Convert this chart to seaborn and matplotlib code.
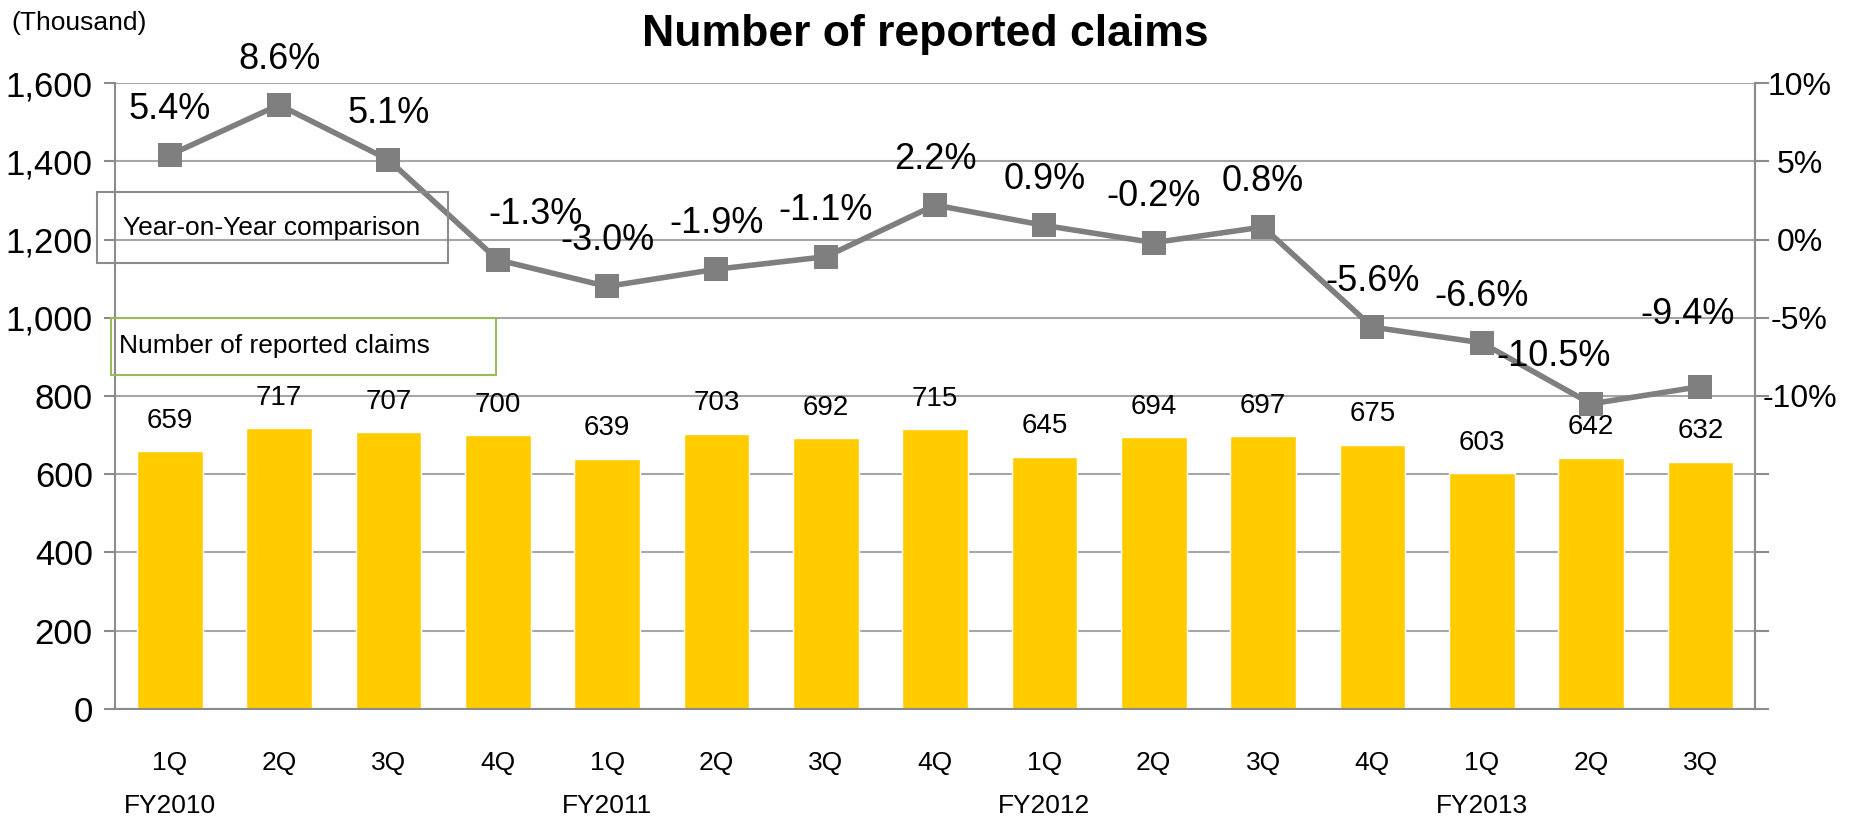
# Number of reported claims (bars) with Year-on-Year change (line, right axis)
import numpy as np
import pandas as pd
import seaborn as sns
import matplotlib.pyplot as plt
from matplotlib.patches import Rectangle

quarters = ['1Q', '2Q', '3Q', '4Q', '1Q', '2Q', '3Q', '4Q',
            '1Q', '2Q', '3Q', '4Q', '1Q', '2Q', '3Q']
fiscal_years = ['FY2010', 'FY2011', 'FY2012', 'FY2013']
claims = [659, 717, 707, 700, 639, 703, 692, 715, 645, 694, 697, 675, 603, 642, 632]
yoy = [5.4, 8.6, 5.1, -1.3, -3.0, -1.9, -1.1, 2.2, 0.9, -0.2, 0.8, -5.6, -6.6, -10.5, -9.4]

# which fiscal year each quarter belongs to
fy_of_quarter = [fy for fy in fiscal_years for _ in range(4)][:len(quarters)]

df = pd.DataFrame({
    'period': [f'{fy} {q}' for fy, q in zip(fy_of_quarter, quarters)],
    'claims': claims,
    'yoy': yoy,
})
df['pos'] = df.index

sns.set_style('white')
plt.rcParams['font.family'] = ['Liberation Sans', 'DejaVu Sans']
plt.rcParams['text.color'] = 'black'
plt.rcParams['xtick.color'] = 'black'
plt.rcParams['ytick.color'] = 'black'

GRAY = '#8C8C8C'
LINE = '#7F7F7F'
BAR = '#FFCC00'

fig = plt.figure(figsize=(18.59, 8.17), dpi=100)
ax = fig.add_axes([0.0619, 0.1322, 0.8822, 0.7662])

sns.barplot(data=df, x='period', y='claims', color=BAR, saturation=1,
            width=0.6, ax=ax)
ax.set_ylim(0, 1600)
ax.set_yticks(range(0, 1601, 200))
ax.set_yticklabels([f'{v:,}' for v in range(0, 1601, 200)])
ax.set_xlim(-0.5, len(quarters) - 0.5)
ax.set_xticks(range(len(quarters)))
ax.set_xticklabels(quarters)
ax.set_xticks(np.arange(-0.5, len(quarters), 1), minor=True)
ax.set_xlabel('')
ax.set_ylabel('')
ax.yaxis.grid(True, color='#A6A6A6', lw=1.5)
ax.set_axisbelow(True)
ax.tick_params(axis='y', length=8, width=1.5, color=GRAY, labelcolor='black',
               labelsize=25, pad=8)
ax.tick_params(axis='x', which='major', length=0, labelcolor='black',
               labelsize=19, pad=30)
ax.tick_params(axis='x', which='minor', length=10, width=1.5, color=GRAY)
ax.spines['top'].set_visible(False)
for s in ['left', 'bottom', 'right']:
    ax.spines[s].set_color(GRAY)
    ax.spines[s].set_linewidth(1.5)

for x, v in zip(df['pos'], df['claims']):
    ax.annotate(f'{v}', (x, v), xytext=(0, 22), textcoords='offset points',
                ha='center', va='center', fontsize=20)

# fiscal year labels under the first quarter of each year
for x, (q, fy) in enumerate(zip(quarters, fy_of_quarter)):
    if q == '1Q':
        ax.text(x, -0.155, fy, transform=ax.get_xaxis_transform(),
                ha='center', va='center', fontsize=19)

ax2 = ax.twinx()
sns.lineplot(data=df, x='pos', y='yoy', ax=ax2, color=LINE, lw=4,
             marker='s', markersize=17, markeredgewidth=0)
ax2.set_xlim(-0.5, len(quarters) - 0.5)
ax2.set_ylim(-30, 10)
ax2.set_yticks(range(-30, 11, 5))
ax2.set_yticklabels([f'{v}%' if v >= -10 else '' for v in range(-30, 11, 5)])
for lbl in ax2.get_yticklabels():
    lbl.set_ha('center')
ax2.tick_params(axis='y', length=10, width=1.5, color=GRAY, labelcolor='black',
                labelsize=23, pad=22)
ax2.set_xlabel('')
ax2.set_ylabel('')
ax2.spines['top'].set_visible(False)
ax2.spines['left'].set_visible(False)
ax2.spines['bottom'].set_visible(False)
ax2.spines['right'].set_color(GRAY)
ax2.spines['right'].set_linewidth(1.5)

label_shift = {3: (27, 33), 13: (-27, 34), 14: (-9, 52)}
for x, v in zip(df['pos'], df['yoy']):
    dx, dy = label_shift.get(x, (0, 33))
    ax2.annotate(f'{v:.1f}%', (x, v), xytext=(dx, dy), textcoords='offset points',
                 ha='center', va='center', fontsize=26)

fig.text(0.4976, 0.958, 'Number of reported claims', ha='center', va='center',
         fontsize=32, fontweight='bold')
fig.text(0.006, 0.972, '(Thousand)', ha='left', va='center', fontsize=19)

# the two label boxes
fig.add_artist(Rectangle((0.0522, 0.678), 0.1888, 0.087, transform=fig.transFigure,
                         fill=False, edgecolor=GRAY, lw=1.5))
fig.text(0.066, 0.721, 'Year-on-Year comparison', ha='left', va='center', fontsize=19)
fig.add_artist(Rectangle((0.0597, 0.541), 0.2071, 0.070, transform=fig.transFigure,
                         fill=False, edgecolor='#9BBB59', lw=1.5))
fig.text(0.064, 0.576, 'Number of reported claims', ha='left', va='center', fontsize=19)

fig.savefig('out.png', dpi=100)
